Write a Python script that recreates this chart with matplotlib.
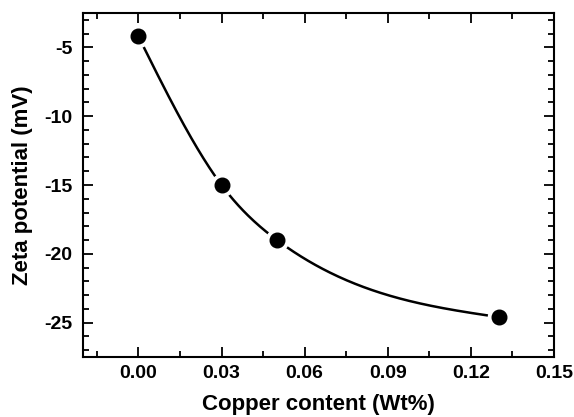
import numpy as np
import matplotlib
matplotlib.use("Agg")
import matplotlib.pyplot as plt
from matplotlib.ticker import MultipleLocator, FormatStrFormatter

copper = [0.00, 0.03, 0.05, 0.13]
zeta = [-4.2, -15.0, -19.0, -24.6]

def natural_spline(x, y, xs):
    x = np.asarray(x, float); y = np.asarray(y, float)
    n = len(x)
    h = np.diff(x)
    A = np.zeros((n, n)); b = np.zeros(n)
    A[0, 0] = 1; A[-1, -1] = 1
    for i in range(1, n - 1):
        A[i, i - 1] = h[i - 1]
        A[i, i] = 2 * (h[i - 1] + h[i])
        A[i, i + 1] = h[i]
        b[i] = 3 * ((y[i + 1] - y[i]) / h[i] - (y[i] - y[i - 1]) / h[i - 1])
    c = np.linalg.solve(A, b)
    out = np.empty_like(xs)
    for k, xv in enumerate(xs):
        i = min(max(np.searchsorted(x, xv) - 1, 0), n - 2)
        bi = (y[i + 1] - y[i]) / h[i] - h[i] * (2 * c[i] + c[i + 1]) / 3
        di = (c[i + 1] - c[i]) / (3 * h[i])
        t = xv - x[i]
        out[k] = y[i] + bi * t + c[i] * t ** 2 + di * t ** 3
    return out

plt.rcParams['font.family'] = ['Liberation Sans', 'DejaVu Sans']
plt.rcParams['font.weight'] = 'bold'

fig = plt.figure(figsize=(5.74, 4.17), dpi=100)
ax = fig.add_axes([0.1446, 0.1439, 0.8204, 0.8249])

xs = np.linspace(copper[0], copper[-1], 300)
ax.plot(xs, natural_spline(copper, zeta, xs), color='black', lw=1.8, zorder=2)
ax.plot(copper, zeta, 'o', ms=16, color='white', mec='white', zorder=3)
ax.plot(copper, zeta, 'o', ms=10.5, color='black', mec='black', zorder=4)

ax.set_xlim(-0.02, 0.15)
ax.set_ylim(-27.5, -2.5)
ax.xaxis.set_major_locator(MultipleLocator(0.03))
ax.xaxis.set_minor_locator(MultipleLocator(0.015))
ax.yaxis.set_major_locator(MultipleLocator(5))
ax.yaxis.set_minor_locator(MultipleLocator(1))
ax.xaxis.set_major_formatter(FormatStrFormatter('%.2f'))
ax.yaxis.set_major_formatter(FormatStrFormatter('%d'))
ax.tick_params(which='both', direction='in', top=True, right=True, width=1.3)
ax.tick_params(which='major', length=7, labelsize=14)
ax.tick_params(axis='x', which='major', pad=6)
ax.tick_params(axis='y', which='major', pad=7.5)
ax.tick_params(which='minor', length=4)
for lab in ax.get_xticklabels() + ax.get_yticklabels():
    lab.set_fontweight('bold')
for s in ax.spines.values():
    s.set_linewidth(1.5)

ax.set_xlabel('Copper content (Wt%)', fontsize=16, fontweight='bold')
ax.set_ylabel('Zeta potential (mV)', fontsize=16, fontweight='bold')
ax.xaxis.set_label_coords(0.5, -0.108)
ax.yaxis.set_label_coords(-0.106, 0.5)

fig.savefig('out.png', dpi=100)
